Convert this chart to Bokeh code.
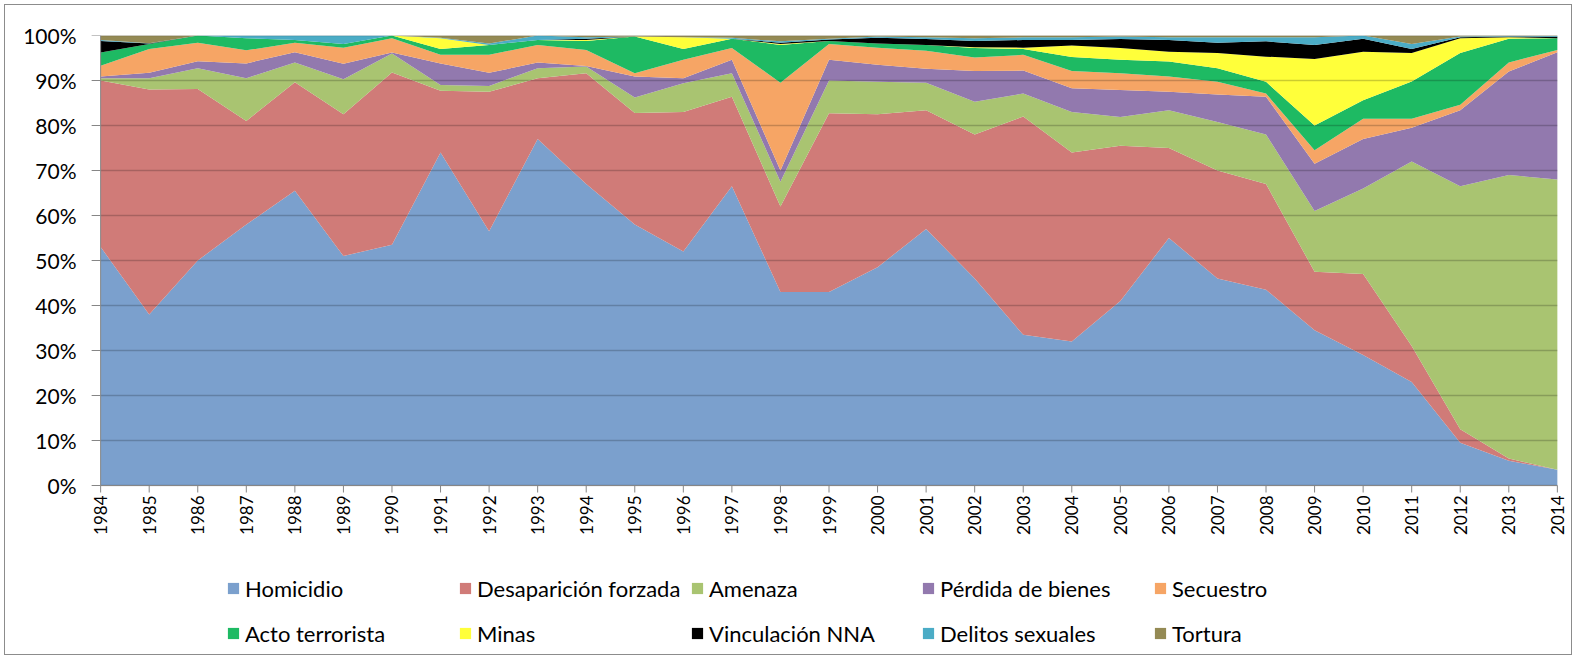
import math
import pandas as pd
from bokeh.plotting import figure
from bokeh.models import (ColumnDataSource, Range1d, NumeralTickFormatter,
                          FixedTicker, Legend, LegendItem)
from bokeh.core.properties import value
from bokeh.embed import file_html
from bokeh.resources import INLINE

years = list(range(1984, 2015))
year_labels = [str(y) for y in years]
y_ticks = [i / 10 for i in range(11)]

homicidio = [53, 38, 50, 58, 65.5, 51, 53.5, 74, 56.5, 77, 67, 58, 52, 66.5, 43, 43,
             48.5, 57, 46, 33.5, 32, 41, 55, 46, 43.5, 34.5, 29, 23, 9.5, 5.5, 3.5]
desaparicion = [37, 50, 38.1, 23, 24.1, 31.5, 38.3, 13.7, 31, 13.5, 24.6, 24.8, 31, 19.9, 19, 39.7,
                34, 26.4, 32, 48.5, 42, 34.5, 20, 24, 23.5, 13, 18, 8, 3, 0.5, 0]
amenaza = [0.5, 2.5, 4.6, 9.5, 4.4, 7.8, 4.2, 1.3, 1.3, 2.2, 1.5, 3.4, 6.4, 5.2, 5.5, 7.3,
           7.2, 6.1, 7.3, 5.1, 9, 6.4, 8.4, 10.8, 11, 13.5, 19, 41, 54, 63, 64.5]
perdida = [0.4, 1.2, 1.6, 3.3, 2.3, 3.4, 0.2, 4.8, 2.9, 1.3, 0.1, 4.7, 1.1, 3.0, 2.5, 4.6,
           3.8, 3.1, 6.8, 5.1, 5.3, 6.0, 4.1, 6.1, 8.4, 10.5, 11, 7.5, 16.9, 23, 28.3]
secuestro = [2.4, 5.3, 4.1, 2.9, 2.1, 3.6, 3.2, 1.9, 4.0, 3.9, 3.6, 0.7, 4.1, 2.6, 19.5, 3.5,
             3.8, 4.0, 3.0, 3.5, 3.8, 3.7, 3.4, 2.8, 0.7, 3.0, 4.5, 2.0, 1.2, 2.0, 0.5]
acto = [2.9, 1.1, 1.6, 2.7, 0.6, 0.8, 0.6, 1.3, 2.2, 1.1, 2.0, 8.2, 2.4, 2.1, 8.4, 0.7,
        0.9, 1.3, 2.1, 1.3, 3.1, 3.0, 3.3, 3.0, 2.6, 5.5, 4.1, 8.3, 11.5, 5.3, 2.6]
minas = [0, 0, 0, 0, 0, 0, 0, 2.4, 0, 0, 0.2, 0, 2.6, 0, 0.2, 0,
         0, 0, 0.2, 0.3, 2.6, 2.6, 2.2, 3.4, 5.6, 14.8, 10.8, 6.3, 3.3, 0.3, 0]
vinculacion = [2.6, 0.1, 0, 0, 0, 0, 0, 0, 0, 0, 0.3, 0, 0, 0, 0.3, 0.3,
               1.3, 1.3, 1.4, 1.7, 1.2, 2.0, 2.6, 2.3, 3.4, 3.1, 2.9, 0.9, 0.2, 0.2, 0.3]
delitos = [0.2, 0.1, 0, 0.6, 1.0, 1.9, 0, 0.1, 0.3, 1.0, 0.3, 0, 0, 0.2, 0.3, 0.2,
           0.3, 0.4, 0.6, 0.6, 0.6, 0.6, 0.6, 1.2, 0.9, 1.7, 0.7, 1.1, 0.2, 0.1, 0.2]
tortura = [1.0, 1.7, 0, 0, 0, 0, 0, 0.5, 1.8, 0, 0.4, 0.2, 0.4, 0.5, 1.3, 0.7,
           0.2, 0.4, 0.6, 0.4, 0.4, 0.2, 0.4, 0.4, 0.4, 0.4, 0, 1.9, 0.2, 0.1, 0.1]

labels = ["Homicidio", "Desaparición forzada", "Amenaza", "Pérdida de bienes", "Secuestro",
          "Acto terrorista", "Minas", "Vinculación NNA", "Delitos sexuales", "Tortura"]
keys = ["hom", "des", "ame", "per", "sec", "act", "min", "vin", "del", "tor"]
colors = ["#7BA0CD", "#D07B78", "#A9C471", "#9279AE", "#F6A565",
          "#1EBA63", "#FFFF3A", "#000000", "#4BACC6", "#948A54"]

series = [homicidio, desaparicion, amenaza, perdida, secuestro,
          acto, minas, vinculacion, delitos, tortura]
df = pd.DataFrame({k: s for k, s in zip(keys, series)})
total = df[keys].sum(axis=1)
for k in keys:
    df[k] = df[k] / total
df["year"] = years
df["label"] = year_labels
df["base"] = 0.0
source = ColumnDataSource(df)

FONT = "Lato"
AX = "#868686"

# The frame reaches down to the bottom of the chart so the legend drawn inside
# it is not clipped; a small margin left/right keeps the end year labels whole.
p = figure(width=1568, height=651, output_backend="svg", toolbar_location=None,
           x_range=Range1d(years[0] - 0.25, years[-1] + 0.25), y_range=Range1d(-0.38, 1),
           x_axis_location=None,
           min_border_left=83, min_border_right=4, min_border_top=30, min_border_bottom=0)
p.background_fill_color = "white"
p.border_fill_color = "white"
p.outline_line_color = None
p.styles = {"border": "1px solid #8C8C8C", "margin": "4px"}

renderers = p.varea_stack(stackers=keys, x="year", color=colors, source=source)

# y axis labels from the side axis; its line and ticks are drawn at the first year
p.yaxis.bounds = (0, 1)
p.yaxis.ticker = FixedTicker(ticks=y_ticks)
p.yaxis.formatter = NumeralTickFormatter(format="0%")
p.yaxis.major_label_text_font = FONT
p.yaxis.major_label_text_font_size = "21px"
p.yaxis.major_label_text_color = "#000000"
p.yaxis.major_tick_out = 0
p.yaxis.major_tick_in = 0
p.yaxis.minor_tick_out = 0
p.yaxis.minor_tick_in = 0
p.yaxis.major_label_standoff = 12
p.yaxis.axis_line_color = None
p.yaxis.major_tick_line_color = None

# horizontal gridlines on top of the areas, spanning the years only
p.xgrid.visible = False
p.ygrid.visible = False
tick_src = ColumnDataSource(dict(x0=[years[0]] * len(y_ticks), x1=[years[-1]] * len(y_ticks),
                                 y=y_ticks))
p.segment(x0="x0", x1="x1", y0="y", y1="y", line_color="#000000", line_alpha=0.2,
          line_width=1.5, source=tick_src)

# value axis line and ticks
p.segment(x0=years[0], x1=years[0], y0=y_ticks[0], y1=y_ticks[-1], line_color=AX, line_width=1)
p.ray(x="x0", y="y", length=9, length_units="screen", angle=math.pi,
      line_color=AX, line_width=1, source=tick_src)

# category (year) axis at the 0% baseline
p.segment(x0=years[0], x1=years[-1], y0=0, y1=0, line_color=AX, line_width=1)
p.ray(x="year", y="base", length=7, length_units="screen", angle=-math.pi / 2,
      line_color=AX, line_width=1, source=source)
p.text(x="year", y="base", text="label", angle=math.pi / 2, y_offset=10,
       text_align="right", text_baseline="middle", text_font=value(FONT),
       text_font_size="17px", text_color="#000000", source=source)

x_offsets = [138, 370, 602, 833, 1065]
for i in range(5):
    items = [LegendItem(label=labels[i], renderers=[renderers[i]]),
             LegendItem(label=labels[i + 5], renderers=[renderers[i + 5]])]
    lg = Legend(items=items, location=(x_offsets[i], 8), orientation="vertical",
                glyph_width=14, glyph_height=14, label_standoff=5, spacing=15,
                label_height=30,
                padding=0, margin=0, border_line_color=None, background_fill_alpha=0,
                label_text_font=FONT, label_text_font_size="22px",
                label_text_color="#000000")
    p.add_layout(lg)

open("out.html", "w").write(file_html(p, INLINE))
